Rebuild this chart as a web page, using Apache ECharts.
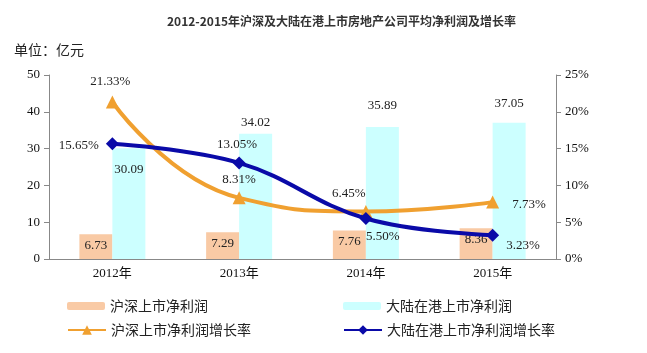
<!DOCTYPE html>
<html>
<head>
<meta charset="utf-8">
<script src="https://cdn.jsdelivr.net/npm/echarts@6/dist/echarts.min.js"></script>
<style>
  html, body { margin: 0; padding: 0; background: #fff; }
  #main { width: 647px; height: 353px; }
</style>
</head>
<body>
<div id="main"></div>
<script>
// data
var years = ['2012年', '2013年', '2014年', '2015年']
var hsProfit = [6.73, 7.29, 7.76, 8.36]
var hkProfit = [30.09, 34.02, 35.89, 37.05]
var hsGrowth = [21.33, 8.31, 6.45, 7.73]
var hkGrowth = [15.65, 13.05, 5.50, 3.23]
var leftTicks = [0, 10, 20, 30, 40, 50]
var rightTicks = [0, 5, 10, 15, 20, 25]

// label placement tweaks, per point
var hkBarLabelOffset = [[0, 10], [0, 0], [0, -10], [0, -8]]
var hkBarLabelPos = ['insideTop', 'top', 'top', 'top']
var hsLineLabel = [
  { position: 'top', offset: [-2, -2] },
  { position: 'top', offset: [0, 0] },
  { position: 'top', offset: [-17, 0] },
  { position: 'right', offset: [8, 2] }
]
var hkLineLabel = [
  { position: 'left', offset: [-2, 2] },
  { position: 'top', offset: [-2, 0] },
  { position: 'bottom', offset: [17, 0] },
  { position: 'right', offset: [2, 10] }
]

var serif = 'Liberation Serif, Noto Sans CJK SC'
var cjk = 'Noto Sans CJK SC'

var chart = echarts.init(document.getElementById('main'))

var option = {
  animation: false,
  title: [{
    text: '2012-2015年沪深及大陆在港上市房地产公司平均净利润及增长率',
    left: 162,
    top: 10,
    textStyle: { fontFamily: cjk, fontSize: 12, fontWeight: 'bold', color: '#333' }
  }, {
    text: '单位：亿元',
    left: 9,
    top: 38,
    textStyle: { fontFamily: cjk, fontSize: 14, fontWeight: 'normal', color: '#222' }
  }],
  grid: { left: 49, right: 91, top: 75, bottom: 94 },
  legend: [
    { data: ['沪深上市净利润'], left: 62, top: 294, itemWidth: 38, itemHeight: 8,
      textStyle: { fontFamily: cjk, fontSize: 14, color: '#222' } },
    { data: ['大陆在港上市净利润'], left: 338, top: 294, itemWidth: 38, itemHeight: 8,
      textStyle: { fontFamily: cjk, fontSize: 14, color: '#222' } },
    { data: ['沪深上市净利润增长率'], left: 62, top: 318, itemWidth: 38, itemHeight: 12,
      textStyle: { fontFamily: cjk, fontSize: 14, color: '#222' } },
    { data: ['大陆在港上市净利润增长率'], left: 338, top: 318, itemWidth: 38, itemHeight: 12,
      textStyle: { fontFamily: cjk, fontSize: 14, color: '#222' } }
  ],
  xAxis: {
    type: 'category',
    data: years,
    axisLine: { lineStyle: { color: '#888' } },
    axisTick: { length: 5, lineStyle: { color: '#888' } },
    axisLabel: { color: '#111', fontFamily: serif, fontSize: 13, margin: 8 }
  },
  yAxis: [{
    type: 'value',
    min: leftTicks[0],
    max: leftTicks[leftTicks.length - 1],
    interval: 10,
    splitLine: { show: false },
    axisLine: { show: true, lineStyle: { color: '#888' } },
    axisTick: { show: true, length: 5, lineStyle: { color: '#888' } },
    axisLabel: { color: '#111', fontFamily: serif, fontSize: 13, margin: 9 }
  }, {
    type: 'value',
    min: rightTicks[0],
    max: rightTicks[rightTicks.length - 1],
    interval: 5,
    splitLine: { show: false },
    axisLine: { show: true, lineStyle: { color: '#888' } },
    axisTick: { show: true, length: 5, lineStyle: { color: '#888' } },
    axisLabel: { color: '#111', fontFamily: serif, fontSize: 13, margin: 9, formatter: '{value}%' }
  }],
  series: [{
    name: '沪深上市净利润',
    type: 'bar',
    data: hsProfit,
    barWidth: 33,
    barGap: '0%',
    itemStyle: { color: '#F9CAA5' },
    label: { show: true, position: 'insideTop', offset: [0, 0], color: '#222', fontFamily: serif, fontSize: 13 }
  }, {
    name: '大陆在港上市净利润',
    type: 'bar',
    barWidth: 33,
    barGap: '0%',
    itemStyle: { color: '#CCFFFF' },
    data: hkProfit.map(function (v, i) {
      return { value: v, label: { position: hkBarLabelPos[i], offset: hkBarLabelOffset[i] } }
    }),
    label: { show: true, color: '#222', fontFamily: serif, fontSize: 13 }
  }, {
    name: '沪深上市净利润增长率',
    type: 'line',
    yAxisIndex: 1,
    smooth: 0.5,
    symbol: 'triangle',
    symbolSize: 13,
    lineStyle: { width: 4, color: '#F0A030' },
    itemStyle: { color: '#F0A030' },
    z: 3,
    data: hsGrowth.map(function (v, i) {
      return { value: v, label: hsLineLabel[i] }
    }),
    label: { show: true, color: '#222', fontFamily: serif, fontSize: 13, formatter: function (p) { return p.value.toFixed(2) + '%' } }
  }, {
    name: '大陆在港上市净利润增长率',
    type: 'line',
    yAxisIndex: 1,
    smooth: 0.4,
    symbol: 'diamond',
    symbolSize: 13,
    lineStyle: { width: 4, color: '#0A0AA8' },
    itemStyle: { color: '#0A0AA8' },
    z: 4,
    data: hkGrowth.map(function (v, i) {
      return { value: v, label: hkLineLabel[i] }
    }),
    label: { show: true, color: '#222', fontFamily: serif, fontSize: 13, formatter: function (p) { return p.value.toFixed(2) + '%' } }
  }]
}

chart.setOption(option)
</script>
</body>
</html>
